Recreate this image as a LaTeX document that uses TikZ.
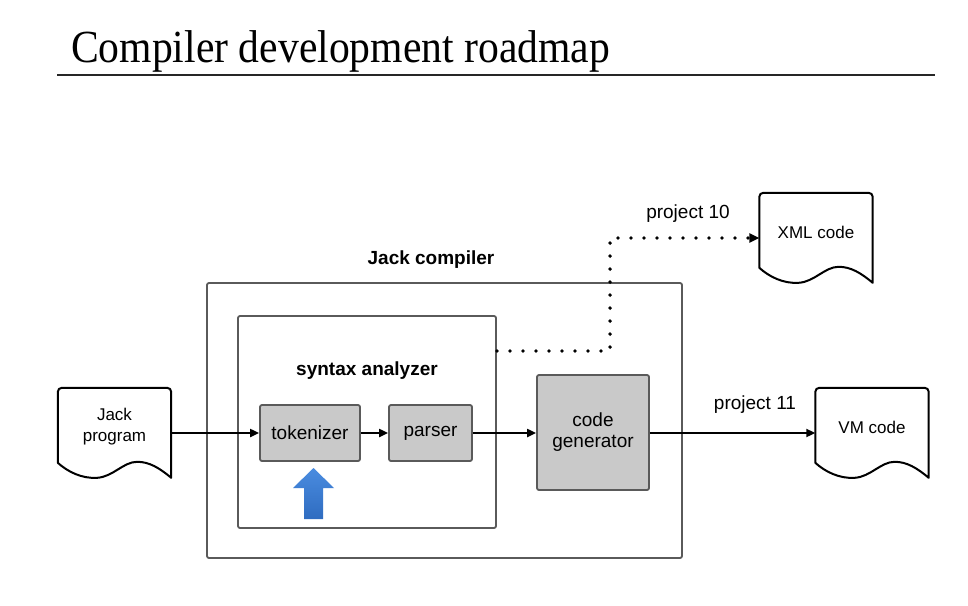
\documentclass[tikz,border=0pt]{standalone}
\usepackage{fontspec}
\setmainfont{Liberation Serif}
\setsansfont{Liberation Sans}
\usetikzlibrary{arrows.meta,calc}
\definecolor{boxline}{HTML}{5A5A5A}
\definecolor{boxfill}{HTML}{C9C9C9}
\definecolor{blueA}{HTML}{4A8CE0}
\definecolor{blueB}{HTML}{2F6CC0}
\tikzset{
  frame/.style={draw=boxline, line width=1.8pt, rounded corners=2pt},
  graybox/.style={draw=boxline, fill=boxfill, line width=1.8pt, rounded corners=2pt,
    font=\sffamily\fontsize{19}{22}\selectfont, align=center, inner sep=0pt},
  docnode/.style={minimum width=113pt, minimum height=78pt, inner sep=0pt,
    font=\sffamily\fontsize{17}{21}\selectfont, align=center},
  docline/.style={draw=black, line width=2pt, line join=round},
  conn/.style={draw=black, line width=2pt, -{Triangle[length=9pt,width=8pt]}},
  dotconn/.style={draw=black, line width=3.8pt, line cap=round, dash pattern=on 0pt off 13pt,
    -{Triangle[length=10pt,width=9pt]}},
  lbl/.style={font=\sffamily\fontsize{19}{22}\selectfont, inner sep=0pt},
  blbl/.style={font=\sffamily\bfseries\fontsize{19}{22}\selectfont, inner sep=0pt}
}
\newcommand\drawdoc[1]{%
  \draw[docline]
    ($(#1.north west)+(0,75)$) -- ($(#1.north west)+(0,4)$)
    to[out=90,in=180] ($(#1.north west)+(4,0)$)
    -- ($(#1.north east)+(-4,0)$)
    to[out=0,in=90] ($(#1.north east)+(0,4)$)
    -- ($(#1.north east)+(0,90)$)
    .. controls ($(#1.north east)+(-12,80)$) and ($(#1.north east)+(-22,74)$) .. ($(#1.north east)+(-34,74)$)
    .. controls ($(#1.north east)+(-48,74)$) and ($(#1.north east)+(-58,89)$) .. ($(#1.north east)+(-74,90)$)
    .. controls ($(#1.north west)+(24,91)$) and ($(#1.north west)+(10,84)$) .. ($(#1.north west)+(0,75)$)
    -- cycle;}
\begin{document}
\begin{tikzpicture}[x=1pt,y=-1pt]
\useasboundingbox[fill=white] (0,0) rectangle (968,605);
% title
\node[anchor=base west, inner sep=0pt, font=\fontsize{46}{50}\selectfont] (title) at (71,62)
  {\scalebox{0.905}[1]{Compiler development roadmap}};
\coordinate (rulestart) at (57,75);
\coordinate (ruleend) at (935,75);
\draw[line width=2.2pt, black!85] (rulestart) -- (ruleend);
% outer boxes
\node[frame, minimum width=475pt, minimum height=275pt, inner sep=0pt] (jc) at (444.5,420.5) {};
\node[blbl] (jclbl) at (431,260) {Jack compiler};
\node[frame, minimum width=258pt, minimum height=212pt, inner sep=0pt] (sa) at (367,422) {};
\node[blbl] (salbl) at (367,371) {syntax analyzer};
% gray boxes
\node[graybox, minimum width=100pt, minimum height=56pt] (tok) at (310,433) {tokenizer};
\node[graybox, minimum width=83pt, minimum height=56pt] (par) at (430.5,433) {parser};
\node[graybox, minimum width=112pt, minimum height=115pt] (cg) at (593,432.5) {code\\[-1pt]generator};
% documents
\node[docnode] (jp) at (114.5,427) {Jack\\program};
\drawdoc{jp}
\node[docnode] (xml) at (816,232) {XML code};
\drawdoc{xml}
\node[docnode] (vm) at (872,427) {VM code};
\drawdoc{vm}
% connectors
\draw[conn] (jp.east |- tok.west) -- (tok.west);
\draw[conn] (tok.east) -- (par.west);
\draw[conn] (par.east) -- (cg.west |- par.east);
\draw[conn] (cg.east |- par.east) -- (vm.west |- par.east);
\node[lbl] (p11) at (755,405) {project 11};
\coordinate (d1) at (610,351);
\coordinate (d2) at (610,238);
\draw[dotconn] (sa.east |- d1) -- (d1) -- (d2) -- (xml.west |- d2);
\node[lbl] (p10) at (688,214) {project 10};
% blue arrow
\shade[top color=blueA, bottom color=blueB]
  (304,519) -- (304,488) -- (293,488) -- (313.5,468) -- (334,488) -- (323,488) -- (323,519) -- cycle;
\end{tikzpicture}
\end{document}
